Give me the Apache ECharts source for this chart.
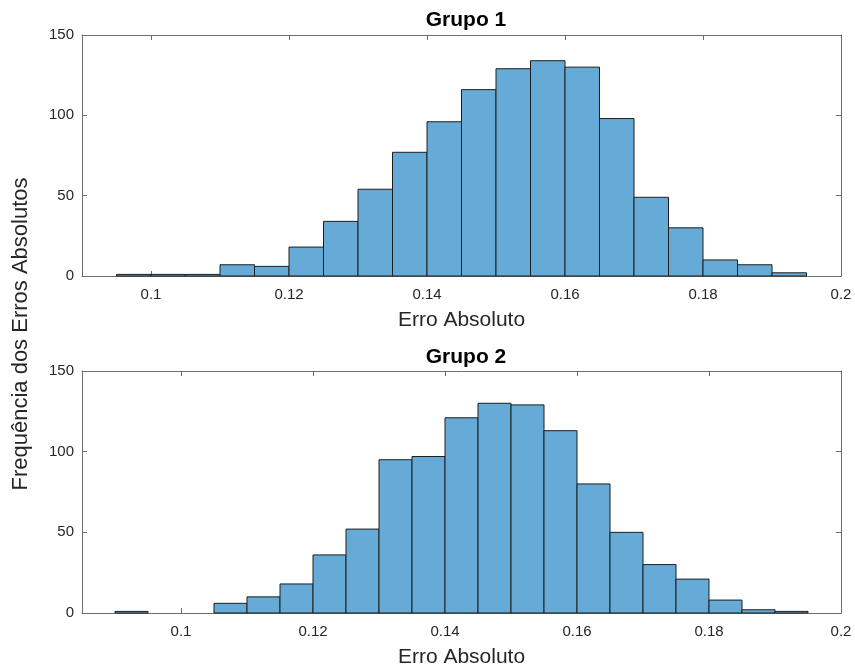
<!DOCTYPE html>
<html>
<head>
<meta charset="utf-8">
<script src="https://cdn.jsdelivr.net/npm/echarts@6/dist/echarts.min.js"></script>
<style>
  html, body { margin: 0; padding: 0; background: #fff; }
  #chart { width: 855px; height: 671px; }
</style>
</head>
<body>
<div id="chart"></div>
<script>
// bin starts (width 0.005) and counts
const binWidth = 0.005
const bins1 = [0.095, 0.100, 0.105, 0.110, 0.115, 0.120, 0.125, 0.130, 0.135, 0.140,
  0.145, 0.150, 0.155, 0.160, 0.165, 0.170, 0.175, 0.180, 0.185, 0.190]
const counts1 = [1, 1, 1, 7, 6, 18, 34, 54, 77, 96, 116, 129, 134, 130, 98, 49, 30, 10, 7, 2]

const bins2 = [0.090, 0.095, 0.100, 0.105, 0.110, 0.115, 0.120, 0.125, 0.130, 0.135,
  0.140, 0.145, 0.150, 0.155, 0.160, 0.165, 0.170, 0.175, 0.180, 0.185, 0.190]
const counts2 = [1, 0, 0, 6, 10, 18, 36, 52, 95, 97, 121, 130, 129, 113, 80, 50, 30, 21, 8, 2, 1]

const xTicks = [0.1, 0.12, 0.14, 0.16, 0.18, 0.2]
const yTicks = [0, 50, 100, 150]

const txt = '#262626'
const axisCol = '#6e6e6e'
const font = 'Liberation Sans, Arial, sans-serif'

const chart = echarts.init(document.getElementById('chart'))

// 直方图柱子
const renderBar = (params, api) => {
  const x0 = api.value(0)
  const c = api.value(1)
  if (!c) return
  const p0 = api.coord([x0, 0])
  const p1 = api.coord([x0 + binWidth, c])
  return {
    type: 'rect',
    shape: { x: p0[0], y: p1[1], width: p1[0] - p0[0], height: p0[1] - p1[1] },
    style: { fill: '#66aad7', stroke: '#1e1e1e', lineWidth: 1 }
  }
}

const makeX = (gridIndex, min, pos) => ({
  type: 'value', gridIndex, min, max: 0.2, position: pos,
  splitLine: { show: false },
  axisLine: { show: true, onZero: false, lineStyle: { color: axisCol, width: 1 } },
  axisTick: { show: true, inside: true, length: 5, customValues: xTicks, lineStyle: { color: axisCol } },
  axisLabel: pos === 'bottom'
    ? { show: true, customValues: xTicks, color: txt, fontSize: 15, fontFamily: font, margin: 11 }
    : { show: false },
  name: pos === 'bottom' ? 'Erro Absoluto' : '',
  nameLocation: 'middle', nameGap: 34,
  nameTextStyle: { color: txt, fontSize: 21, fontFamily: font }
})

const makeY = (gridIndex, pos) => ({
  type: 'value', gridIndex, min: 0, max: 150, position: pos,
  splitLine: { show: false },
  axisLine: { show: true, lineStyle: { color: axisCol, width: 1 } },
  axisTick: { show: true, inside: true, length: 5, customValues: yTicks, lineStyle: { color: axisCol } },
  axisLabel: pos === 'left'
    ? { show: true, customValues: yTicks, color: txt, fontSize: 15, fontFamily: font, margin: 8 }
    : { show: false }
})

const option = {
  animation: false,
  backgroundColor: '#fff',
  title: [
    { text: 'Grupo 1', left: 461, top: 5, textAlign: 'center',
      textStyle: { fontSize: 21, fontWeight: 'bold', color: '#000', fontFamily: font } },
    { text: 'Grupo 2', left: 461, top: 342, textAlign: 'center',
      textStyle: { fontSize: 21, fontWeight: 'bold', color: '#000', fontFamily: font } }
  ],
  grid: [
    { left: 82, right: 14, top: 35, height: 241 },
    { left: 82, right: 14, top: 371, height: 242 }
  ],
  xAxis: [
    makeX(0, 0.09, 'bottom'), makeX(0, 0.09, 'top'),
    makeX(1, 0.085, 'bottom'), makeX(1, 0.085, 'top')
  ],
  yAxis: [
    makeY(0, 'left'), makeY(0, 'right'),
    makeY(1, 'left'), makeY(1, 'right')
  ],
  graphic: [{
    type: 'text', x: 21, y: 334, rotation: Math.PI / 2,
    style: { text: 'Frequência dos Erros Absolutos', fill: txt, fontSize: 22, fontFamily: font,
      align: 'center', verticalAlign: 'middle' }
  }],
  series: [
    { type: 'custom', xAxisIndex: 0, yAxisIndex: 0, renderItem: renderBar,
      data: bins1.map((b, i) => [b, counts1[i]]) },
    { type: 'custom', xAxisIndex: 2, yAxisIndex: 2, renderItem: renderBar,
      data: bins2.map((b, i) => [b, counts2[i]]) }
  ]
}

chart.setOption(option)
</script>
</body>
</html>
